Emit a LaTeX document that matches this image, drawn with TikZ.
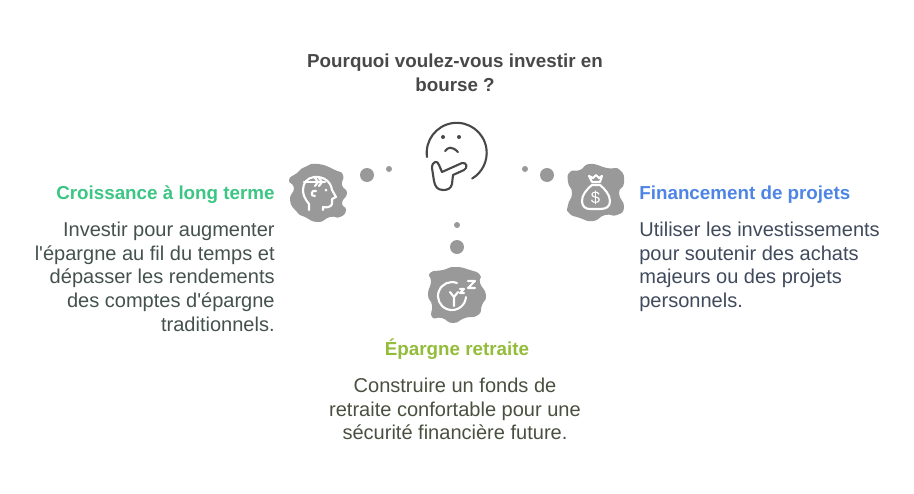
\documentclass[tikz,border=0pt]{standalone}
\usepackage{fontspec}
\setmainfont{Liberation Sans}[Ligatures=TeXOff]
\usepackage{xcolor}
\usetikzlibrary{positioning}
\definecolor{titlegray}{HTML}{484848}
\definecolor{bodygreen}{HTML}{44524C}
\definecolor{bodyblue}{HTML}{3F4A5C}
\definecolor{bodylime}{HTML}{4A5040}
\definecolor{dotgray}{HTML}{999999}
\definecolor{growgreen}{HTML}{3CC583}
\definecolor{fundblue}{HTML}{4E85E4}
\definecolor{retirelime}{HTML}{92BC39}
\tikzset{
    headtext/.style={font=\bfseries\fontsize{10.7}{13.6}\selectfont, inner sep=0pt},
    bodytext/.style={font=\fontsize{11.4}{13.6}\selectfont, inner sep=0pt},
    bigdot/.style={circle, fill=dotgray, minimum size=14\unitpx, inner sep=0pt},
    smalldot/.style={circle, fill=dotgray, minimum size=6\unitpx, inner sep=0pt},
    blobfill/.style={fill=dotgray},
    iconline/.style={draw=white, line width=1.2pt, line cap=round, line join=round},
    faceline/.style={draw=titlegray, line width=1.2pt, line cap=round, line join=round}
}
\newcommand{\unitpx}{*0.02cm}
\begin{document}
\begin{tikzpicture}[x=0.02cm, y=-0.02cm]
    \useasboundingbox (0,0) rectangle (914,494);
    % Question
    \node (question) [headtext, text=titlegray, align=center, anchor=base] at (455,91) {Pourquoi voulez-vous investir en\\bourse ?};
    % Thinking face
    \draw[faceline] (427,157) arc[start angle=188, end angle=-59, x radius=30, y radius=-30];
    \fill[titlegray] (443,137) circle[radius=2] (459,137) circle[radius=2];
    \draw[faceline] (445,151) .. controls (448,147) and (452,146) .. (458,152);
    \draw[faceline] (442,172) -- (462,163) .. controls (467,162) and (468,168) .. (464,170)
        -- (453,175) -- (452,184) .. controls (451,189) and (447,190) .. (443,190)
        .. controls (437,190) and (435,186) .. (434,181) -- (432,168)
        .. controls (432,161) and (438,160) .. (439,165) -- cycle;
    % Dots
    \node (dotla) [bigdot] at (367,175) {};
    \node (dotlb) [smalldot] at (389,169) {};
    \node (dotra) [bigdot] at (547,175) {};
    \node (dotrb) [smalldot] at (525,169) {};
    \node (dotba) [bigdot] at (457,247) {};
    \node (dotbb) [smalldot] at (457,225) {};
    % Blobs
    \fill[blobfill] plot[smooth cycle, tension=1] coordinates {(318,164) (335,170) (343,175) (342,185) (347,193) (342,203) (346,210) (340,217) (330,217) (318,222) (305,217) (297,212) (290,200) (294,188) (289,180) (297,173) (305,167)};
    \fill[blobfill] plot[smooth cycle, tension=1] coordinates {(590,164) (607,168) (620,170) (624,183) (619,193) (624,207) (617,215) (605,215) (593,221) (580,218) (569,213) (568,205) (572,193) (568,182) (570,172) (580,170)};
    \fill[blobfill] plot[smooth cycle, tension=1] coordinates {(455,267) (470,270) (480,275) (480,283) (486,295) (482,305) (478,315) (465,318) (453,323) (442,318) (432,317) (432,305) (428,295) (431,282) (430,273) (443,270)};
    % Head icon
    \draw[iconline] (309,210) -- (309,204) .. controls (305,199) and (303,195) .. (303,190)
        .. controls (303,183) and (307,178) .. (314,177) .. controls (324,176) and (331,182) .. (332,190)
        -- (336,197) -- (332,199) -- (332,204) .. controls (331,207) and (327,208) .. (323,207) -- (323,210);
    \draw[iconline] (304,182) -- (325,182);
    \draw[iconline] (315,178) -- (318,182) -- (315,186) (319,178) -- (322,182) -- (319,186);
    \draw[iconline] (316,191) .. controls (311,189) and (310,197) .. (315,196);
    \fill[white] (326,190) circle[radius=1.5];
    % Money icon
    \draw[iconline] (592,185) .. controls (586,190) and (582,195) .. (582,201)
        .. controls (582,207) and (586,209) .. (590,209) -- (600,209)
        .. controls (606,209) and (610,207) .. (610,201) .. controls (610,195) and (605,189) .. (600,185) -- cycle;
    \draw[iconline] (592,182) -- (589,176) -- (593,178) -- (596,175) -- (599,178) -- (602,176) -- (600,182) -- cycle;
    \node (dollar) [text=white, font=\fontsize{9.5}{10}\selectfont, inner sep=0pt] at (595.5,198) {\$};
    % Sleep icon
    \draw[iconline] (457,283) arc[start angle=69, end angle=356, x radius=14, y radius=-14];
    \draw[iconline] (450,292) -- (454,297) -- (458,292) (454,297) -- (454,306);
    \draw[iconline] (460,289) -- (464,289) -- (460,293) -- (464,293);
    \draw[iconline] (468,281) -- (475,281) -- (468,288) -- (475,288);
    % Left text
    \node (grow) [headtext, text=growgreen, anchor=base east] at (275,199) {Croissance à long terme};
    \node (growtxt) [bodytext, text=bodygreen, align=right, below=18\unitpx of grow.south east, anchor=north east] {Investir pour augmenter\\l'épargne au fil du temps et\\dépasser les rendements\\des comptes d'épargne\\traditionnels.};
    % Right text
    \node (fund) [headtext, text=fundblue, anchor=base west] at (639,199) {Financement de projets};
    \node (fundtxt) [bodytext, text=bodyblue, align=left, below=18\unitpx of fund.south west, anchor=north west] {Utiliser les investissements\\pour soutenir des achats\\majeurs ou des projets\\personnels.};
    % Bottom text
    \node (retire) [headtext, text=retirelime, anchor=base] at (457,355) {Épargne retraite};
    \node (retiretxt) [bodytext, text=bodylime, align=center, below=18\unitpx of retire.south, anchor=north, xshift=-2\unitpx] {Construire un fonds de\\retraite confortable pour une\\sécurité financière future.};
\end{tikzpicture}
\end{document}
